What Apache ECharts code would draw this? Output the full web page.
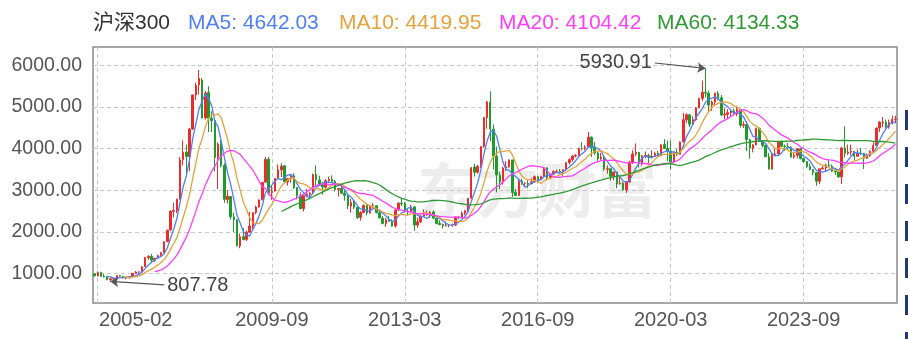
<!DOCTYPE html>
<html><head><meta charset="utf-8">
<script src="https://cdn.jsdelivr.net/npm/echarts@6/dist/echarts.min.js"></script>
<style>html,body{margin:0;padding:0;background:#fff}#c{width:908px;height:339px}</style>
</head><body><div id="c"></div>
<script>
// ---- data (monthly candles, 2005-01 .. 2026-02) ----
const categories = [];
for (let y = 2005; y <= 2026; y++) for (let m = 1; m <= 12; m++) {
  if (y === 2026 && m > 2) break;
  categories.push(y + '-' + (m < 10 ? '0' + m : m));
}
const opens = [
 994,943,1022,935,915,848,868,880,945,935,890,893,
 925,1005,1034,1040,1165,1380,1412,1320,1365,1430,1500,1765,
 2050,2495,2510,2785,3735,3920,3810,4475,5290,5530,5650,4740,
 5350,4730,4680,3790,4120,3600,2780,2850,2360,2290,1660,1885,
 1820,1995,2140,2465,2600,2770,3195,3745,2940,2980,3285,3490,
 3590,3200,3285,3350,3065,2870,2560,2870,2905,2940,3380,3250,
 3130,3075,3230,3265,3210,3020,3045,2930,2878,2620,2705,2590,
 2350,2465,2635,2455,2630,2630,2460,2330,2205,2295,2255,2140,
 2530,2690,2675,2495,2480,2600,2165,2245,2380,2410,2410,2480,
 2330,2205,2178,2146,2158,2160,2165,2350,2340,2450,2510,2810,
 3560,3435,3575,4055,4750,5125,4470,3820,3365,3200,3535,3570,
 3730,2945,2875,3220,3155,3170,3155,3205,3328,3255,3335,3540,
 3313,3390,3452,3455,3438,3495,3668,3738,3823,3838,4010,4006,
 4045,4275,4025,3899,3757,3802,3505,3517,3335,3440,3153,3173,
 3011,3202,3670,3872,3913,3630,3826,3836,3799,3814,3886,3828,
 4100,4004,3940,3686,3912,3868,4164,4695,4817,4588,4695,4980,
 5212,5352,5336,5048,5123,5331,5224,4811,4828,4866,4908,4833,
 4940,4564,4581,4222,4016,4091,4485,4170,4079,3804,3509,3854,
 3872,4157,4061,4051,4030,3799,3842,3999,3765,3690,3573,3497,
 3431,3216,3516,3537,3604,3579,3462,3442,3322,4018,3891,3917,
 3935,3817,3891,3887,3770,3840,3936,4075,4497,4620,4640,4526,
 4630,4700
];
const highs = [
 1000,1050,1040,985,930,905,885,960,970,940,905,930,
 1010,1060,1045,1170,1400,1440,1470,1380,1450,1510,1770,2050,
 2520,2700,2800,3800,4200,4100,4500,5300,5590,5892,5700,5390,
 5500,4900,4700,4150,4200,3650,3000,2860,2460,2300,1960,2090,
 2030,2480,2470,2630,2780,3200,3800,3803,3120,3300,3620,3650,
 3600,3300,3390,3410,3080,2950,2870,3030,2950,3400,3600,3350,
 3200,3270,3330,3360,3250,3060,3150,3000,2900,2790,2780,2600,
 2500,2660,2680,2650,2700,2640,2530,2380,2330,2380,2300,2540,
 2720,2790,2720,2540,2650,2620,2340,2400,2540,2520,2500,2520,
 2330,2280,2200,2250,2180,2200,2370,2380,2490,2520,2810,3560,
 3640,3610,4060,4760,5150,5380,4580,4050,3450,3560,3700,3740,
 3730,3030,3250,3280,3190,3240,3290,3360,3340,3350,3560,3550,
 3400,3480,3500,3510,3500,3670,3770,3850,3870,4030,4160,4080,
 4403,4300,4160,3920,3900,3820,3600,3530,3440,3450,3330,3200,
 3220,3710,3960,4127,3920,3850,3930,3880,3960,3930,3950,4110,
 4230,4200,4200,3920,3990,4170,4860,4850,4820,4780,5000,5220,
 5640,5930.91,5400,5160,5350,5390,5290,4970,4950,4930,4960,5030,
 4960,4660,4600,4240,4110,4510,4510,4200,4100,3900,3890,4000,
 4170,4200,4100,4140,4060,3900,4010,4020,3780,3700,3640,3510,
 3440,3520,3580,3640,3720,3620,3520,3460,4050,4540,4100,4100,
 3940,3980,4020,3900,3880,3960,4150,4500,4660,4760,4700,4700,
 4800,4790
];
const lows = [
 935,930,920,905,840,807.78,815,870,920,880,860,885,
 920,990,1000,1035,1160,1330,1270,1280,1360,1420,1495,1760,
 2020,2350,2450,2780,3600,3380,3460,4450,5170,5300,4730,4700,
 4400,4400,3450,3030,3550,2700,2680,2300,2000,1650,1607,1800,
 1780,1990,2050,2420,2580,2760,3190,2880,2770,2970,3280,3320,
 3180,3110,3180,3030,2780,2540,2490,2830,2800,2930,3080,3100,
 2900,3040,3170,3190,2970,2850,2910,2750,2550,2460,2550,2310,
 2270,2450,2400,2440,2560,2440,2330,2180,2120,2250,2130,2102,
 2500,2620,2460,2390,2470,2023,2100,2210,2370,2390,2330,2320,
 2180,2160,2080,2130,2110,2120,2140,2300,2330,2400,2450,2800,
 3330,3400,3540,4020,4480,4180,3500,2950,3030,3140,3470,3540,
 2840,2860,2860,3130,3080,3050,3150,3190,3220,3250,3320,3240,
 3280,3370,3410,3420,3350,3460,3620,3690,3790,3830,3960,3960,
 4040,3800,3850,3700,3730,3470,3400,3230,3240,3050,3140,2990,
 2935,3180,3630,3820,3550,3590,3770,3650,3790,3800,3810,3820,
 3990,3700,3500,3650,3820,3860,4150,4620,4520,4580,4670,4970,
 5150,5230,4870,4910,5040,5160,4780,4710,4720,4780,4800,4780,
 4510,4500,3940,3760,3910,4080,4160,4030,3800,3500,3500,3830,
 3860,4040,3950,3980,3790,3760,3770,3740,3660,3530,3480,3360,
 3108,3150,3500,3450,3590,3440,3370,3300,3150,3790,3850,3840,
 3730,3810,3850,3510,3760,3800,3920,4070,4400,4520,4480,4480,
 4580,4610
];
const closes = [
 942,1020,935,917,850,871,878,945,935,890,893,923,
 1004,1034,1038,1160,1378,1411,1323,1363,1428,1500,1763,2041,
 2493,2515,2782,3730,3910,3813,4471,5291,5526,5689,4737,5338,
 4731,4672,3790,4112,3600,2783,2855,2361,2293,1663,1884,1817,
 1993,2141,2462,2597,2768,3190,3741,2936,2975,3282,3488,3576,
 3205,3281,3346,3069,2870,2563,2868,2903,2936,3379,3254,3128,
 3077,3229,3265,3212,3021,3044,2930,2878,2626,2706,2593,2346,
 2464,2634,2455,2626,2632,2462,2333,2204,2293,2254,2139,2523,
 2688,2673,2495,2480,2600,2164,2243,2378,2411,2409,2478,2330,
 2203,2178,2146,2158,2160,2165,2350,2338,2450,2509,2808,3534,
 3434,3572,4051,4749,5124,4473,3817,3366,3203,3534,3566,3731,
 2946,2877,3218,3156,3169,3154,3203,3327,3253,3336,3539,3310,
 3387,3452,3456,3439,3493,3666,3737,3822,3837,4006,4006,4031,
 4275,4023,3899,3757,3802,3510,3517,3335,3439,3153,3173,3011,
 3202,3670,3872,3913,3630,3826,3836,3799,3814,3886,3828,4097,
 4004,3940,3686,3912,3868,4164,4695,4817,4588,4695,4980,5211,
 5352,5336,5048,5123,5331,5224,4811,4828,4866,4908,4833,4940,
 4564,4581,4222,4016,4091,4485,4170,4079,3804,3509,3854,3872,
 4157,4061,4051,4030,3799,3842,3999,3765,3690,3573,3497,3431,
 3216,3516,3537,3604,3579,3462,3442,3322,4018,3891,3917,3935,
 3817,3891,3887,3770,3840,3936,4075,4497,4640,4640,4526,4630,
 4706,4708
];
const maPeriods = [5, 10, 20, 60];
const maNames = ['MA5', 'MA10', 'MA20', 'MA60'];
const maLatest = ['4642.03', '4419.95', '4104.42', '4134.33'];
const maColors = ['#4f7ff5', '#e6a23c', '#ff3dff', '#2f9a34'];
const indexName = '沪深300';
const xTickLabels = ['2005-02', '2009-09', '2013-03', '2016-09', '2020-03', '2023-09'];
const yTicks = [1000, 2000, 3000, 4000, 5000, 6000];

// ---- build ----
const FONT = "'Liberation Sans', Arial, 'Noto Sans CJK SC', sans-serif";
const kData = categories.map((d, i) => [opens[i], closes[i], lows[i], highs[i]]);
function ma(n) {
  return closes.map((c, i) => {
    if (i < n - 1) return '-';
    let s = 0; for (let k = i - n + 1; k <= i; k++) s += closes[k];
    return +(s / n).toFixed(2);
  });
}
let minIdx = 0, maxIdx = 0;
lows.forEach((v, i) => { if (v < lows[minIdx]) minIdx = i; });
highs.forEach((v, i) => { if (v > highs[maxIdx]) maxIdx = i; });
const showX = i => xTickLabels.indexOf(categories[i]) >= 0;
const firstLabelIdx = categories.indexOf(xTickLabels[0]);

const titleX = [93, 188, 339, 499, 657];
const graphics = [];
graphics.push({ type: 'text', x: titleX[0], y: 23, z: 10,
  style: { text: indexName, fill: '#333', font: "21px " + FONT, textVerticalAlign: 'middle' } });
maNames.forEach((n, i) => graphics.push({ type: 'text', x: titleX[i + 1], y: 23, z: 10,
  style: { text: n + ': ' + maLatest[i], fill: maColors[i], font: "21px " + FONT, textVerticalAlign: 'middle' } }));
graphics.push({ type: 'text', x: 537, y: 190, z: -1,
  style: { text: '东方财富', fill: 'rgba(0,0,0,0.07)', font: "bold 60px 'Noto Sans CJK SC'", textAlign: 'center', textVerticalAlign: 'middle' } });
[110, 147, 184, 221, 258, 295, 332].forEach(y => graphics.push({ type: 'rect', z: 10,
  shape: { x: 905, y: y, width: 3, height: 20 }, style: { fill: '#1f3b70' } }));

const series = [{
  type: 'candlestick', data: kData, barWidth: '62%', z: 2,
  itemStyle: { color: '#ee2b2b', color0: '#1e9b2a', borderColor: '#ee2b2b', borderColor0: '#1e9b2a', borderWidth: 1 },
  markLine: {
    silent: true, animation: false, symbol: ['none', 'arrow'], symbolSize: 8,
    lineStyle: { color: '#555', width: 1.2, type: 'solid' },
    label: { show: true, position: 'start', color: '#444', fontSize: 20, fontFamily: FONT, distance: 3 },
    data: [
      [{ coord: [minIdx + 17, lows[minIdx] - 84], label: { formatter: lows[minIdx].toFixed(2) } }, { coord: [minIdx, lows[minIdx]] }],
      [{ coord: [maxIdx - 16, highs[maxIdx] + 130], label: { formatter: highs[maxIdx].toFixed(2) } }, { coord: [maxIdx, highs[maxIdx]] }]
    ]
  }
}];
maPeriods.forEach((p, i) => series.push({
  type: 'line', name: maNames[i], data: ma(p), showSymbol: false, silent: true, z: 3,
  lineStyle: { color: maColors[i], width: 1.3 }, itemStyle: { color: maColors[i] }
}));

const chart = echarts.init(document.getElementById('c'));
chart.setOption({
  animation: false,
  grid: { left: 93, right: 11, top: 47, bottom: 36, show: true, borderColor: '#8a8a8a', borderWidth: 1.5, outerBoundsMode: 'none' },
  xAxis: {
    type: 'category', data: categories, boundaryGap: true,
    axisLine: { show: false }, axisTick: { show: false },
    axisLabel: {
      interval: (i) => showX(i), color: '#555', fontSize: 20, fontFamily: FONT, margin: 7,
      formatter: (v, i) => i === firstLabelIdx ? '{s|' + v + '}' : v,
      rich: { s: { padding: [0, 0, 0, 76], fontSize: 20, color: '#555', fontFamily: FONT } }
    },
    splitLine: { show: true, interval: (i) => showX(i), alignWithLabel: true, lineStyle: { color: '#c8c8c8', type: [4, 3] } }
  },
  yAxis: {
    type: 'value', min: 290, max: 6445, scale: true,
    axisLine: { show: false }, axisTick: { show: false, customValues: yTicks },
    axisLabel: { customValues: yTicks, formatter: v => v.toFixed(2), color: '#555', fontSize: 19.5, fontFamily: FONT, margin: 11 },
    splitLine: { show: true, lineStyle: { color: '#c8c8c8', type: [4, 3] } }
  },
  graphic: graphics,
  series: series
});
</script></body></html>
